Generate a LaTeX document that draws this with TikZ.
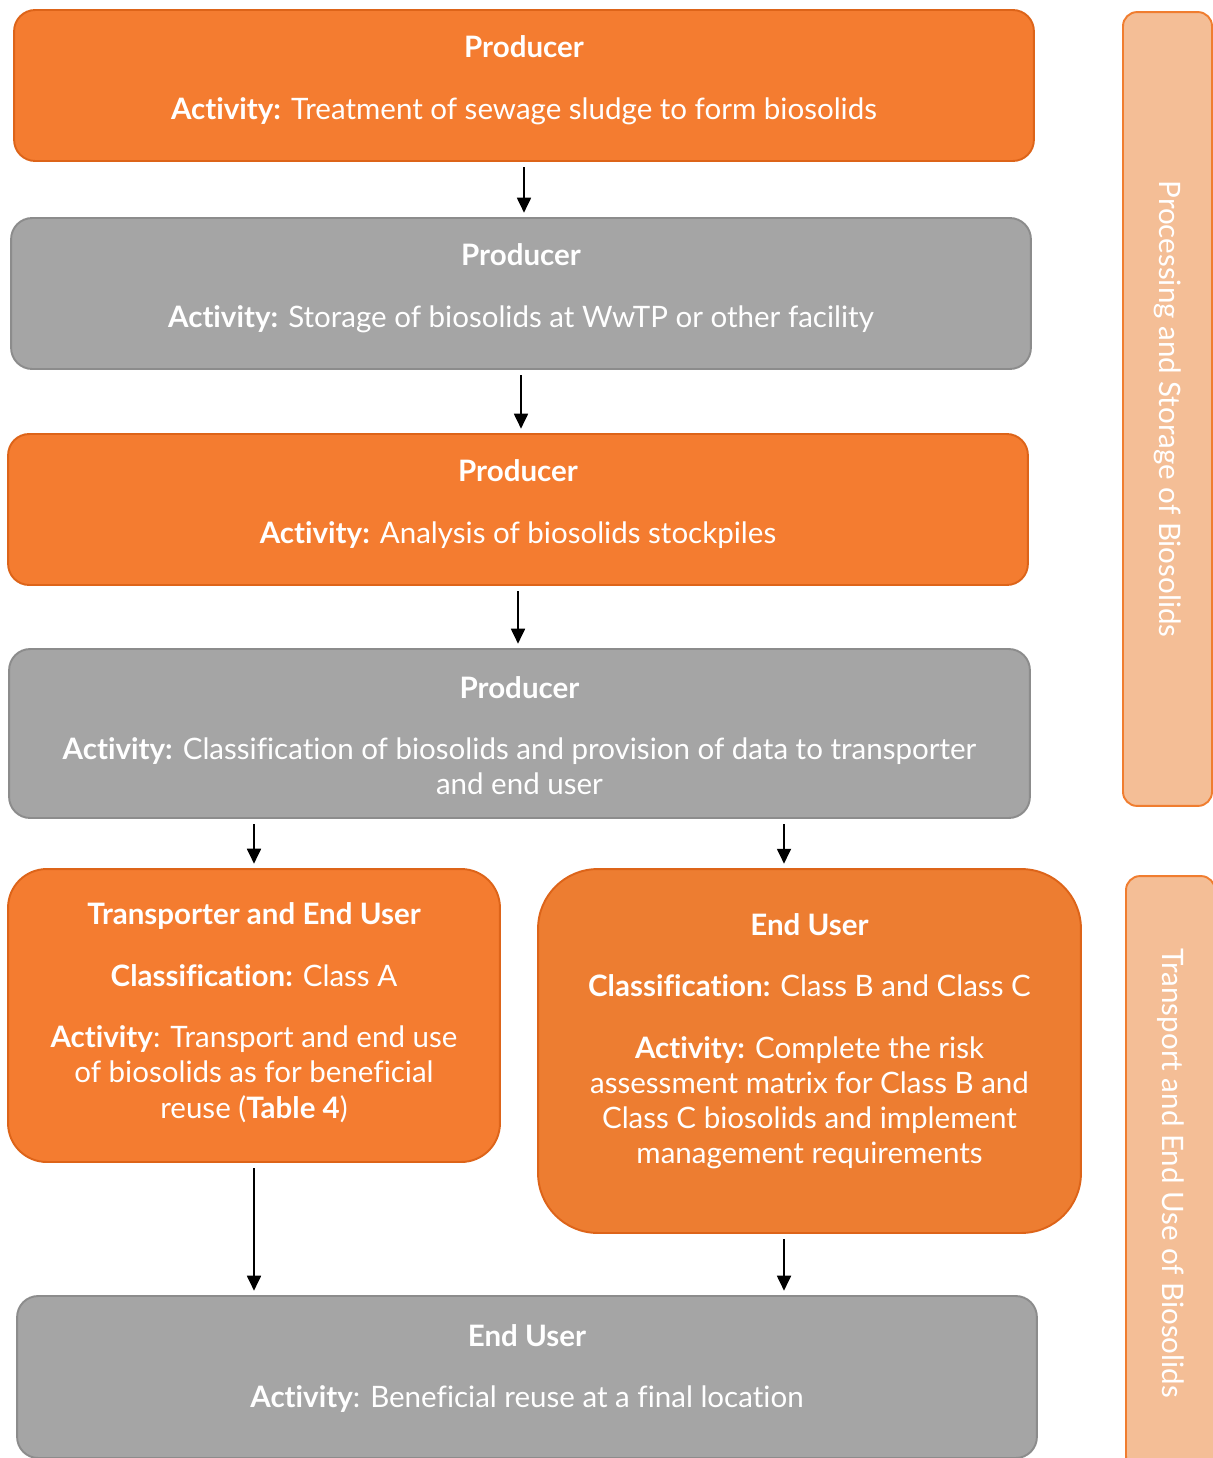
\documentclass[tikz,border=0pt]{standalone}
\usepackage{fontspec}
\setmainfont{Lato}[Ligatures=NoCommon]
\usetikzlibrary{arrows.meta,positioning,calc}

\definecolor{procorange}{HTML}{F47C30}
\definecolor{procedge}{HTML}{DD6419}
\definecolor{endorange}{HTML}{ED7D31}
\definecolor{stepgray}{HTML}{A5A5A5}
\definecolor{grayedge}{HTML}{8C8C8C}
\definecolor{phasefill}{HTML}{F4BE96}
\definecolor{phaseedge}{HTML}{F07D2F}

% centred lines, nudged up a little inside the box
\newcommand\lifted[2]{\raisebox{#1}[\height][\depth]{\begin{tabular}{@{}c@{}}#2\end{tabular}}}

\begin{document}
\begin{tikzpicture}[x=0.02cm,y=-0.02cm,
  box/.style={rectangle,rounded corners=12pt,draw,line width=1.1pt,text=white,font=\fontsize{16.8}{20}\selectfont,inner sep=0pt},
  orangebox/.style={box,fill=procorange,draw=procedge},
  graybox/.style={box,fill=stepgray,draw=grayedge},
  phase/.style={rectangle,rounded corners=8pt,draw=phaseedge,fill=phasefill,line width=1.1pt,text=white,font=\fontsize{16.8}{20}\selectfont},
  arr/.style={-{Triangle[width=8pt,length=8.5pt]},line width=0.9pt,shorten <=3pt,shorten >=2.5pt}]
\useasboundingbox (0,0) rectangle (1213,1458);
\clip (0,0) rectangle (1213,1458);

% Producer steps
\node[orangebox,minimum width=20.4cm,minimum height=3.02cm] (treat) at (524,85.5)
  {\lifted{2.4pt}{\textbf{Producer}\\[15pt]\textbf{Activity:} Treatment of sewage sludge to form biosolids}};
\node[graybox,minimum width=20.4cm,minimum height=3.02cm] (store) at (521,293.5)
  {\lifted{2.4pt}{\textbf{Producer}\\[15pt]\textbf{Activity:} Storage of biosolids at WwTP or other facility}};
\node[orangebox,minimum width=20.4cm,minimum height=3.02cm] (analyse) at (518,509.5)
  {\lifted{2.4pt}{\textbf{Producer}\\[15pt]\textbf{Activity:} Analysis of biosolids stockpiles}};
\node[graybox,minimum width=20.42cm,minimum height=3.38cm] (classify) at (519.5,733.5)
  {\lifted{-3.3pt}{\textbf{Producer}\\[15pt]\textbf{Activity:} Classification of biosolids and provision of data to transporter\\and end user}};

% Split by class
\node[orangebox,rounded corners=22pt,minimum width=9.84cm,minimum height=5.86cm] (classA) at (254,1015.5)
  {\lifted{0.6pt}{\textbf{Transporter and End User}\\[15pt]\textbf{Classification:} Class A\\[15pt]\textbf{Activity}: Transport and end use\\of biosolids as for beneficial\\reuse (\textbf{Table 4})}};
\node[orangebox,fill=endorange,rounded corners=34pt,minimum width=10.86cm,minimum height=7.28cm] (classBC) at (809.5,1051)
  {\lifted{5pt}{\textbf{End User}\\[15pt]\textbf{Classification:} Class B and Class C\\[15pt]\textbf{Activity:} Complete the risk\\assessment matrix for Class B and\\Class C biosolids and implement\\management requirements}};

% Final use
\node[graybox,minimum width=20.4cm,minimum height=3.24cm] (reuse) at (527,1377)
  {\lifted{4pt}{\textbf{End User}\\[15pt]\textbf{Activity}: Beneficial reuse at a final location}};

% Phase labels on the right
\node[phase,rotate=-90,minimum width=15.88cm,minimum height=1.78cm] (phase1) at (1167.5,409) {Processing and Storage of Biosolids};
\node[phase,rotate=-90,minimum width=11.88cm,minimum height=1.78cm] (phase2) at (1170.5,1173) {Transport and End Use of Biosolids};

% Arrows
\draw[arr] (treat.south) -- (treat.south |- store.north);
\draw[arr] (store.south) -- (store.south |- analyse.north);
\draw[arr] (analyse.south) -- (analyse.south |- classify.north);
\draw[arr] (classify.south -| classA.north) -- (classA.north);
\coordinate (bcin) at ([xshift=-0.51cm]classBC.north);
\coordinate (bcout) at ([xshift=-0.51cm]classBC.south);
\draw[arr] (classify.south -| bcin) -- (bcin);
\draw[arr] (classA.south) -- (classA.south |- reuse.north);
\draw[arr] (bcout) -- (bcout |- reuse.north);
\end{tikzpicture}
\end{document}
